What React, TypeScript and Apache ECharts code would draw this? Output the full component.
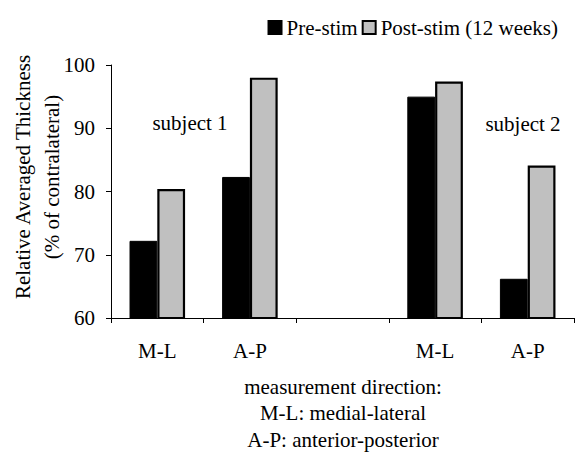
import React, { useEffect, useRef } from "react";
import * as echarts from "echarts";

const categories = ["M-L", "A-P", "", "M-L", "A-P"];
const preStim = [72.2, 82.3, null, 95.0, 66.2];
const postStim = [80.4, 98.0, null, 97.4, 84.1];
const seriesNames = ["Pre-stim", "Post-stim (12 weeks)"];
const yMin = 60;
const yMax = 100;
const yInterval = 10;
const yAxisTitle = "Relative Averaged Thickness\n(% of contralateral)";
const footnote = "measurement direction:\nM-L: medial-lateral\nA-P: anterior-posterior";
const subjectLabels = ["subject 1", "subject 2"];

const FONT = "Times New Roman";

export default function App() {
  const ref = useRef<HTMLDivElement>(null);
  useEffect(() => {
    if (!ref.current) return;
    const chart = echarts.init(ref.current, null, { renderer: "svg" });
    chart.setOption({
      animation: false,
      backgroundColor: "#ffffff",
      textStyle: { fontFamily: FONT },
      legend: {
        right: 14,
        top: 12,
        itemWidth: 13,
        itemHeight: 13,
        itemGap: 4,
        icon: "rect",
        textStyle: { fontFamily: FONT, fontSize: 21, color: "#000" },
        data: seriesNames,
      },
      grid: { left: 111, right: 3, top: 65, bottom: 135 },
      xAxis: {
        type: "category",
        data: categories,
        axisLine: { show: true, lineStyle: { color: "#000", width: 1 } },
        axisTick: { show: true, interval: 0, length: 5, lineStyle: { color: "#000" } },
        axisLabel: { interval: 0, fontFamily: FONT, fontSize: 21, color: "#000", margin: 22 },
        splitLine: { show: false },
      },
      yAxis: {
        type: "value",
        min: yMin,
        max: yMax,
        interval: yInterval,
        axisLine: { show: true, lineStyle: { color: "#000", width: 1 } },
        axisTick: { show: true, length: 5, lineStyle: { color: "#000" } },
        axisLabel: { fontFamily: FONT, fontSize: 21, color: "#000", margin: 16 },
        splitLine: { show: false },
      },
      series: [
        {
          name: seriesNames[0],
          type: "bar",
          data: preStim,
          barGap: "0%",
          barCategoryGap: "40%",
          itemStyle: { color: "#000000", borderColor: "#000", borderWidth: 1 },
        },
        {
          name: seriesNames[1],
          type: "bar",
          data: postStim,
          barGap: "0%",
          barCategoryGap: "40%",
          itemStyle: { color: "#c0c0c0", borderColor: "#000000", borderWidth: 2.2 },
        },
      ],
      graphic: [
        {
          type: "text",
          x: 37,
          y: 177,
          rotation: Math.PI / 2,
          style: {
            text: yAxisTitle,
            fontFamily: FONT,
            fontSize: 21,
            lineHeight: 29,
            fill: "#000",
            align: "center",
            verticalAlign: "middle",
          },
        },
        {
          type: "text",
          x: 343,
          y: 413,
          style: {
            text: footnote,
            fontFamily: FONT,
            fontSize: 21,
            lineHeight: 26.5,
            fill: "#000",
            align: "center",
            verticalAlign: "middle",
          },
        },
        {
          type: "text",
          x: 190,
          y: 123,
          style: {
            text: subjectLabels[0],
            fontFamily: FONT,
            fontSize: 21,
            fill: "#000",
            align: "center",
            verticalAlign: "middle",
          },
        },
        {
          type: "text",
          x: 523,
          y: 124,
          style: {
            text: subjectLabels[1],
            fontFamily: FONT,
            fontSize: 21,
            fill: "#000",
            align: "center",
            verticalAlign: "middle",
          },
        },
      ],
    });
    return () => chart.dispose();
  }, []);
  return (
    <div
      ref={ref}
      style={{ position: "fixed", left: 0, top: 0, width: 577, height: 453 }}
    />
  );
}
